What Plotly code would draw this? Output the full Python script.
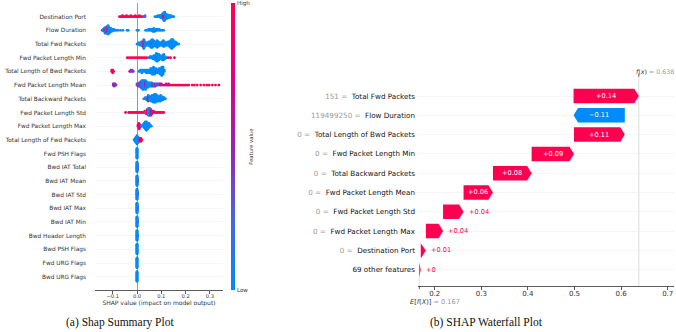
import numpy as np
import plotly.graph_objects as go

W, H = 676, 332

# ---------------- SHAP summary (beeswarm) data ----------------
summary_features = [
    "Destination Port", "Flow Duration", "Total Fwd Packets", "Fwd Packet Length Min",
    "Total Length of Bwd Packets", "Fwd Packet Length Mean", "Total Backward Packets",
    "Fwd Packet Length Std", "Fwd Packet Length Max", "Total Length of Fwd Packets",
    "Fwd PSH Flags", "Bwd IAT Total", "Bwd IAT Mean", "Bwd IAT Std", "Bwd IAT Max",
    "Bwd IAT Min", "Bwd Header Length", "Bwd PSH Flags", "Fwd URG Flags", "Bwd URG Flags",
]
# each entry: (SHAP value, number of samples, normalised feature value 0=low 1=high)
bee_destination_port = [
    (-0.072, 1, 1), (-0.066, 1, 1), (-0.060, 2, 1), (-0.054, 1, 1), (-0.049, 1, 1), (-0.043, 2, 1),
    (-0.037, 1, 1), (-0.031, 1, 1), (-0.025, 2, 1), (-0.019, 1, 1), (-0.013, 1, 1), (-0.007, 2, 1),
    (-0.002, 1, 1), (0.004, 1, 1), (0.010, 2, 1), (0.016, 1, 1), (0.022, 1, 1), (0.028, 1, 0.3),
    (0.033, 2, 0.2), (0.074, 1, 0), (0.080, 1, 0), (0.086, 2, 0), (0.092, 2, 0), (0.097, 3, 0),
    (0.102, 4, 0), (0.106, 6, 0), (0.110, 5, 1), (0.110, 4, 0), (0.114, 3, 1), (0.114, 7, 0),
    (0.118, 6, 0), (0.122, 5, 0), (0.126, 4, 0), (0.130, 3, 0), (0.135, 3, 0), (0.140, 2, 0),
    (0.146, 1, 0), (0.151, 1, 0),
]
bee_flow_duration = [
    (-0.143, 1, 1), (-0.139, 2, 0), (-0.135, 4, 0), (-0.131, 4, 1), (-0.131, 3, 0), (-0.127, 7, 0),
    (-0.123, 8, 0.4), (-0.119, 5, 1), (-0.119, 5, 0), (-0.115, 7, 0), (-0.111, 5, 0), (-0.107, 4, 0),
    (-0.103, 3, 0), (-0.099, 2, 0), (-0.095, 2, 0), (-0.090, 1, 0), (-0.084, 1, 0), (-0.077, 1, 0),
    (-0.068, 1, 0), (-0.058, 1, 0), (-0.041, 1, 0), (-0.036, 1, 0), (0.000, 1, 0), (0.006, 1, 0),
    (0.035, 1, 0), (0.041, 1, 0), (0.047, 2, 0), (0.053, 2, 0), (0.059, 2, 0), (0.064, 3, 0),
    (0.069, 4, 0), (0.074, 3, 0), (0.080, 2, 0), (0.086, 2, 0), (0.092, 2, 0), (0.098, 1, 0),
    (0.104, 1, 0), (0.110, 1, 0),
]
bee_total_fwd_packets = [
    (0.000, 1, 0), (0.006, 2, 0), (0.012, 3, 0), (0.018, 4, 0), (0.023, 5, 0), (0.028, 7, 1),
    (0.028, 2, 0), (0.033, 5, 0), (0.038, 3, 0), (0.043, 3, 0), (0.048, 4, 0), (0.053, 5, 0),
    (0.058, 7, 0), (0.063, 2, 0.6), (0.063, 6, 0), (0.068, 6, 0), (0.073, 4, 0), (0.078, 5, 0),
    (0.083, 7, 0), (0.088, 5, 0), (0.093, 3, 0), (0.098, 3, 0), (0.103, 4, 0), (0.108, 6, 0),
    (0.113, 5, 0), (0.118, 3, 0), (0.123, 3, 0), (0.128, 4, 0), (0.133, 5, 0), (0.138, 7, 0),
    (0.143, 9, 0), (0.148, 8, 0), (0.153, 5, 0), (0.158, 4, 0), (0.163, 2, 0), (0.168, 1, 0),
    (0.172, 1, 0),
]
bee_fwd_pkt_len_min = [
    (-0.040, 1, 1), (-0.032, 1, 1), (-0.024, 1, 1), (-0.016, 1, 1), (-0.008, 1, 1), (0.000, 1, 1),
    (0.008, 1, 1), (0.016, 1, 1), (0.024, 1, 1), (0.032, 1, 1), (0.040, 1, 1), (0.048, 1, 0),
    (0.054, 2, 0), (0.060, 2, 0), (0.065, 3, 0), (0.070, 4, 0), (0.075, 5, 0), (0.080, 2, 0.5),
    (0.080, 6, 0), (0.085, 7, 0), (0.090, 6, 0), (0.095, 4, 0), (0.100, 3, 0), (0.105, 5, 0),
    (0.110, 6, 0), (0.115, 3, 0), (0.120, 1, 0), (0.128, 1, 1), (0.138, 1, 1), (0.154, 1, 1),
]
bee_total_len_bwd = [
    (-0.104, 2, 1), (-0.100, 3, 1), (-0.096, 1, 1), (-0.030, 1, 0.5), (-0.025, 2, 0.5),
    (-0.020, 2, 0.4), (-0.015, 1, 0.4), (0.008, 1, 0), (0.014, 2, 0), (0.020, 3, 0), (0.026, 2, 0),
    (0.032, 2, 0), (0.038, 3, 0), (0.044, 3, 0), (0.050, 3, 0), (0.056, 4, 0), (0.062, 5, 0),
    (0.068, 6, 0), (0.072, 5, 0), (0.078, 4, 0), (0.084, 3, 0), (0.090, 4, 0), (0.096, 5, 0),
    (0.102, 7, 0), (0.107, 6, 0), (0.112, 2, 0),
]
bee_fwd_pkt_len_mean = [
    (-0.098, 2, 0.45), (-0.094, 3, 0.5), (-0.090, 2, 0.45), (-0.086, 1, 0.4), (0.000, 2, 0.4),
    (0.005, 3, 0.35), (0.010, 4, 0.4), (0.015, 6, 0.3), (0.020, 8, 0.2), (0.025, 9, 0),
    (0.030, 8, 0), (0.035, 6, 0.5), (0.035, 3, 0), (0.040, 6, 0), (0.045, 5, 0), (0.050, 4, 0),
    (0.055, 4, 0), (0.060, 4, 0), (0.065, 3, 0.6), (0.070, 3, 0), (0.075, 3, 0.5), (0.080, 2, 0),
    (0.085, 2, 0.5), (0.090, 2, 0), (0.095, 2, 0.8), (0.100, 2, 0.7), (0.105, 1, 0.5),
    (0.110, 1, 0.9), (0.115, 1, 0.8), (0.120, 2, 0.7), (0.125, 1, 1), (0.130, 2, 0.6),
    (0.135, 1, 1), (0.140, 1, 1), (0.146, 1, 1), (0.152, 1, 1), (0.158, 1, 1), (0.164, 1, 1),
    (0.170, 1, 1), (0.176, 1, 1), (0.182, 1, 1), (0.188, 1, 1), (0.194, 1, 1), (0.200, 1, 1),
    (0.206, 1, 1), (0.213, 1, 1), (0.227, 1, 1), (0.236, 1, 1), (0.248, 1, 1), (0.262, 1, 1),
    (0.275, 1, 1), (0.287, 1, 1), (0.297, 1, 1), (0.310, 1, 1), (0.323, 1, 1), (0.337, 1, 1),
]
bee_total_bwd_packets = [
    (0.028, 1, 0), (0.034, 2, 0), (0.040, 3, 0), (0.046, 5, 1), (0.046, 1, 0), (0.052, 4, 0),
    (0.057, 5, 0), (0.062, 6, 0), (0.067, 7, 0), (0.072, 8, 0), (0.077, 8, 0), (0.082, 6, 0),
    (0.087, 5, 0), (0.092, 5, 0), (0.097, 6, 0), (0.102, 4, 0), (0.107, 3, 0), (0.112, 2, 0),
    (0.117, 1, 0),
]
bee_fwd_pkt_len_std = [
    (-0.047, 1, 1), (-0.034, 1, 1), (-0.028, 1, 1), (-0.022, 1, 1), (-0.016, 1, 1), (-0.010, 1, 1),
    (-0.004, 1, 1), (0.002, 1, 1), (0.008, 1, 1), (0.014, 1, 1), (0.020, 1, 1), (0.026, 1, 1),
    (0.032, 2, 1), (0.037, 3, 0), (0.042, 4, 1), (0.047, 6, 0), (0.052, 6, 0), (0.057, 5, 0.5),
    (0.062, 3, 0.5), (0.068, 2, 1), (0.074, 1, 1), (0.080, 1, 1), (0.086, 1, 1), (0.092, 1, 1),
    (0.098, 1, 1), (0.104, 1, 1), (0.110, 1, 1),
]
bee_fwd_pkt_len_max = [
    (0.004, 2, 1), (0.008, 5, 1), (0.012, 3, 0.7), (0.018, 1, 0), (0.024, 2, 0), (0.029, 4, 0),
    (0.034, 6, 0), (0.039, 7, 0), (0.044, 5, 0), (0.049, 4, 0), (0.054, 2, 0), (0.059, 1, 0),
]
bee_total_len_fwd = [
    (-0.012, 1, 0), (-0.008, 3, 0), (-0.004, 5, 0), (0.000, 7, 0), (0.004, 5, 0), (0.008, 3, 0),
    (0.012, 3, 1), (0.016, 3, 1), (0.020, 1, 1),
]
bee_fwd_psh_flags = [(0.000, 22, 0)]
bee_bwd_iat_total = [(0.0015, 12, 1), (0.000, 22, 0)]
bee_bwd_iat_mean = [(0.0015, 8, 1), (0.000, 22, 0)]
bee_bwd_iat_std = [(0.0015, 6, 1), (0.000, 22, 0)]
bee_bwd_iat_max = [(0.0015, 8, 1), (0.000, 22, 0)]
bee_bwd_iat_min = [(0.0015, 4, 1), (0.000, 22, 0)]
bee_bwd_header_len = [(0.0015, 3, 0.5), (0.000, 22, 0)]
bee_bwd_psh_flags = [(0.000, 22, 0)]
bee_fwd_urg_flags = [(0.000, 22, 0)]
bee_bwd_urg_flags = [(0.000, 22, 0)]

summary_rows = [
    bee_destination_port, bee_flow_duration, bee_total_fwd_packets, bee_fwd_pkt_len_min,
    bee_total_len_bwd, bee_fwd_pkt_len_mean, bee_total_bwd_packets, bee_fwd_pkt_len_std,
    bee_fwd_pkt_len_max, bee_total_len_fwd, bee_fwd_psh_flags, bee_bwd_iat_total,
    bee_bwd_iat_mean, bee_bwd_iat_std, bee_bwd_iat_max, bee_bwd_iat_min, bee_bwd_header_len,
    bee_bwd_psh_flags, bee_fwd_urg_flags, bee_bwd_urg_flags,
]
summary_ticks = [-0.1, 0.0, 0.1, 0.2, 0.3]

# ---------------- SHAP waterfall data ----------------
wf_features = [
    "Total Fwd Packets", "Flow Duration", "Total Length of Bwd Packets", "Fwd Packet Length Min",
    "Total Backward Packets", "Fwd Packet Length Mean", "Fwd Packet Length Std",
    "Fwd Packet Length Max", "Destination Port", "69 other features",
]
wf_feature_values = ["151", "119499250", "0", "0", "0", "0", "0", "0", "0", ""]
wf_shap = [0.140, -0.110, 0.109, 0.091, 0.083, 0.063, 0.044, 0.037, 0.011, 0.003]
base_value = 0.167
wf_ticks = [0.2, 0.3, 0.4, 0.5, 0.6, 0.7]

PINK = "#ff0051"
BLUE = "#008bfb"
colorscale = [[0.0, "#008bfb"], [0.25, "rgb(74,99,227)"], [0.5, "rgb(155,35,173)"],
              [0.75, "rgb(224,0,134)"], [1.0, "#ff0051"]]


def px(x):
    return x / W


def py(y):
    return 1 - y / H


def beeswarm(clusters, row_height=0.45):
    stacks = {}
    for v, n, c in clusters:
        stacks.setdefault(v, []).extend([c] * n)
    maxlayer = max(np.ceil((len(s) - 1) / 2) for s in stacks.values())
    scale = 0.9 * row_height / (maxlayer + 1)
    xs, ys, cs = [], [], []
    for v, cols in stacks.items():
        for j, c in enumerate(cols):
            off = np.ceil(j / 2) * ((j % 2) * 2 - 1)
            xs.append(v)
            ys.append(off * scale)
            cs.append(c)
    return xs, ys, cs


fig = go.Figure()

nrows = len(summary_features)
all_x, all_y, all_c = [], [], []
for i, clusters in enumerate(summary_rows):
    row_y = nrows - 1 - i
    xs, ys, cs = beeswarm(clusters)
    all_x += xs
    all_y += [row_y + o for o in ys]
    all_c += cs

fig.add_trace(go.Scatter(
    x=all_x, y=all_y, mode="markers", xaxis="x", yaxis="y",
    marker=dict(size=2.8, color=all_c, coloraxis="coloraxis", line=dict(width=0)),
    showlegend=False, hoverinfo="skip",
))

# waterfall arrows
nwf = len(wf_features)
starts = [0.0] * nwf
cum = base_value
for i in reversed(range(nwf)):
    starts[i] = cum
    cum += wf_shap[i]
fx_value = cum

xr2 = [0.16416, 0.71352]
px_per_unit = (674 - 418) / (xr2[1] - xr2[0])
head_len = 4.5 / px_per_unit
half_h = 0.375
annotations = []
for i in range(nwf):
    yv = nwf - 1 - i
    s = starts[i]
    v = wf_shap[i]
    e = s + v
    d = abs(v)
    hl = min(head_len, d)
    sg = 1 if v >= 0 else -1
    xs = [s, e - sg * hl, e, e - sg * hl, s, s]
    ys = [yv - half_h, yv - half_h, yv, yv + half_h, yv + half_h, yv - half_h]
    col = PINK if v >= 0 else BLUE
    fig.add_trace(go.Scatter(
        x=xs, y=ys, mode="lines", fill="toself", fillcolor=col,
        line=dict(width=0, color=col), xaxis="x2", yaxis="y2",
        showlegend=False, hoverinfo="skip",
    ))
    txt = f"{v:+.2f}".rstrip("0").rstrip(".").replace("-", "\u2212")
    if d * px_per_unit > 24:
        annotations.append(dict(x=(s + e) / 2, y=yv, xref="x2", yref="y2", text=txt,
                                showarrow=False, font=dict(size=6.6, color="white"),
                                xanchor="center", yanchor="middle"))
    else:
        annotations.append(dict(x=e, y=yv, xref="x2", yref="y2", text=txt, showarrow=False,
                                font=dict(size=6.6, color=col), xanchor="left",
                                yanchor="middle", xshift=3))

wf_ticktext = []
for name, val in zip(wf_features, wf_feature_values):
    if val:
        wf_ticktext.append(f'<span style="color:#999999">{val} =\u00a0</span>\u00a0{name}')
    else:
        wf_ticktext.append(name)

font_family = "DejaVu Sans"

# labels
annotations += [
    dict(x=px(235), y=py(3.3), xref="paper", yref="paper", text="High", showarrow=False,
         xanchor="left", yanchor="middle", font=dict(size=5.5, color="#333333")),
    dict(x=px(235), y=py(290), xref="paper", yref="paper", text="Low", showarrow=False,
         xanchor="left", yanchor="middle", font=dict(size=5.5, color="#333333")),
    dict(x=px(250.7), y=py(147), xref="paper", yref="paper", text="Feature value",
         showarrow=False, textangle=-90, xanchor="center", yanchor="middle",
         font=dict(size=5.3, color="#333333")),
    dict(x=fx_value, y=py(71.7), xref="x2", yref="paper",
         text=f'<i>f</i>(<i>x</i>)<span style="color:#999999"> = {fx_value:.3f}</span>',
         showarrow=False, xanchor="left", yanchor="middle", xshift=-5,
         font=dict(size=6.3, color="#333333")),
    dict(x=base_value, y=py(302), xref="x2", yref="paper",
         text=f'<i>E</i>[<i>f</i>(<i>X</i>)]<span style="color:#999999"> = {base_value:.3f}</span>',
         showarrow=False, xanchor="left", yanchor="middle", xshift=-11,
         font=dict(size=6.6, color="#333333")),
    dict(x=px(120), y=py(322), xref="paper", yref="paper", text="(a) Shap Summary Plot",
         showarrow=False, xanchor="center", yanchor="middle",
         font=dict(family="Liberation Serif", size=11.5, color="#111111")),
    dict(x=px(486), y=py(322), xref="paper", yref="paper", text="(b) SHAP Waterfall Plot",
         showarrow=False, xanchor="center", yanchor="middle",
         font=dict(family="Liberation Serif", size=11.5, color="#111111")),
]

yd2 = [1 - 286 / H, 1 - 76.7 / H]
shapes = [
    dict(type="line", xref="x2", yref="y2 domain", x0=fx_value, x1=fx_value, y0=0, y1=1,
         line=dict(color="#dddddd", width=1), layer="below"),
    dict(type="line", xref="x2", yref="y2 domain", x0=fx_value, x1=fx_value, y0=1, y1=1.014,
         line=dict(color="#333333", width=0.8)),
    dict(type="line", xref="x2", yref="y2 domain", x0=base_value, x1=base_value, y0=0,
         y1=0.1, line=dict(color="#dddddd", width=1), layer="below"),
    dict(type="line", xref="x2", yref="y2 domain", x0=base_value, x1=base_value, y0=0,
         y1=-0.014, line=dict(color="#333333", width=0.8)),
]

fig.update_layout(
    width=W, height=H, margin=dict(l=0, r=0, t=0, b=0),
    paper_bgcolor="white", plot_bgcolor="white",
    font=dict(family=font_family, color="#333333"),
    showlegend=False,
    coloraxis=dict(
        colorscale=colorscale, cmin=0, cmax=1,
        colorbar=dict(x=px(231), xanchor="left", y=py(146.7), yanchor="middle",
                      thickness=3.5, lenmode="pixels", len=287, xpad=0, ypad=0,
                      outlinewidth=0, showticklabels=False, ticks=""),
    ),
    xaxis=dict(
        domain=[px(95), px(223)], range=[(95 - 137) / 243, (223 - 137) / 243],
        tickvals=summary_ticks, tickformat=".1f", ticks="outside", ticklen=3,
        tickcolor="#333333", tickwidth=0.8, showline=True, linecolor="#333333", linewidth=0.8,
        showgrid=False, zeroline=True, zerolinecolor="#999999", zerolinewidth=1,
        tickfont=dict(size=5.2, color="#333333"), ticklabelstandoff=-2,
        title=dict(text="SHAP value (impact on model output)", font=dict(size=6, color="#333333"),
                   standoff=0),
        fixedrange=True,
    ),
    yaxis=dict(
        domain=[1 - 290.4 / H, 1 - 3.0 / H], range=[-1, nrows],
        tickvals=list(range(nrows)), ticktext=summary_features[::-1], ticks="",
        showline=False, showgrid=True, gridcolor="#efefef", gridwidth=0.6, zeroline=False,
        tickfont=dict(size=5.8, color="#333333"), ticklabelstandoff=8, fixedrange=True,
    ),
    xaxis2=dict(
        domain=[px(418), px(674)], range=xr2, anchor="y2",
        tickvals=wf_ticks, tickformat=".1f", ticks="outside", ticklen=3, tickcolor="#333333",
        tickwidth=0.8, showline=True, linecolor="#333333", linewidth=0.8, showgrid=False,
        zeroline=False, tickfont=dict(size=7, color="#333333"), ticklabelstandoff=-2,
        fixedrange=True,
    ),
    yaxis2=dict(
        domain=yd2, range=[-0.845, 10.0], anchor="x2",
        tickvals=[nwf - 1 - i for i in range(nwf)], ticktext=wf_ticktext, ticks="",
        showline=False, showgrid=True, gridcolor="#efefef", gridwidth=0.6, zeroline=False,
        tickfont=dict(size=7.2, color="#111111"), ticklabelstandoff=2, fixedrange=True,
    ),
    annotations=annotations,
    shapes=shapes,
)

fig.write_html("out.html", config={"displayModeBar": False, "staticPlot": True},
               post_script="document.body.style.margin='0';")
